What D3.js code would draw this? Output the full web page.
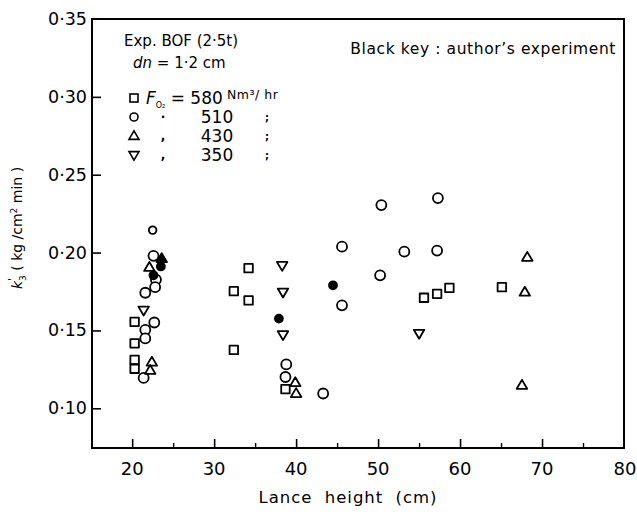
<!DOCTYPE html>
<html>
<head>
<meta charset="utf-8">
<script src="https://cdn.jsdelivr.net/npm/d3@7"></script>
<style>
html,body{margin:0;padding:0;background:#fff;}
text{font-family:"DejaVu Sans",sans-serif;fill:#000;}
</style>
</head>
<body>
<svg id="chart" width="637" height="514"></svg>
<script>
// ---- data (lance height cm, k'3 kg/cm2 min) ----
const xTicks = [20, 30, 40, 50, 60, 70, 80];
const xMinorTicks = [25, 35, 45, 55, 65, 75];
const yTicks = [0.10, 0.15, 0.20, 0.25, 0.30, 0.35];
const yTickLabels = ["0·10", "0·15", "0·20", "0·25", "0·30", "0·35"];

// F_O2 = 580 Nm3/hr (squares)
const sq580X = [20.3, 20.3, 20.3, 20.3, 32.4, 34.2, 34.2, 32.4, 38.7, 55.6, 57.2, 58.7, 65.1];
const sq580Y = [0.1555, 0.1417, 0.1311, 0.1254, 0.1752, 0.190, 0.1693, 0.1375, 0.1123, 0.171, 0.1735, 0.1773, 0.1778];
// F_O2 = 510 (circles)
const ci510X = [22.5, 22.6, 22.9, 22.8, 21.6, 22.7, 21.6, 21.6, 21.4, 38.8, 38.7, 43.3, 45.6, 45.6, 50.4, 50.25, 53.2, 57.3, 57.2];
const ci510Y = [0.2144, 0.1979, 0.1826, 0.1778, 0.1742, 0.1551, 0.1504, 0.1449, 0.1195, 0.1282, 0.1201, 0.1095, 0.2038, 0.1661, 0.2305, 0.1854, 0.2006, 0.235, 0.2013];
// F_O2 = 430 (up triangles)
const tr430X = [22.1, 22.4, 22.2, 39.9, 40.0, 68.2, 67.9, 67.55];
const tr430Y = [0.1905, 0.1297, 0.1244, 0.1165, 0.1095, 0.197, 0.1746, 0.1148];
// F_O2 = 350 (down triangles)
const dt350X = [21.4, 38.3, 38.4, 38.4, 55.0];
const dt350Y = [0.163, 0.1917, 0.1746, 0.1472, 0.1481];
// Black key: author's experiment
const authorCircleX = [23.5, 22.6, 37.9, 44.5];
const authorCircleY = [0.1911, 0.1854, 0.1576, 0.179];
const authorTriX = [23.6];
const authorTriY = [0.1962];

const legendRates = ["580", "510", "430", "350"];

// ---- layout ----
const svg = d3.select("#chart");
const L = 92, R = 624, T = 19, B = 448;
const x = d3.scaleLinear().domain([15.1, 80]).range([L, R]);
const y = d3.scaleLinear().domain([0.0745, 0.35]).range([B, T]);

// frame
svg.append("rect").attr("x", L).attr("y", T).attr("width", R - L).attr("height", B - T)
  .attr("fill", "none").attr("stroke", "#000").attr("stroke-width", 2);

// x axis (inward ticks)
const xAxis = d3.axisTop(x).tickValues(xTicks.filter(v => v < 80)).tickSize(9).tickFormat("");
svg.append("g").attr("transform", `translate(0,${B})`).call(xAxis)
  .call(g => g.select(".domain").remove())
  .call(g => g.selectAll("line").attr("stroke-width", 1.6));
const xAxisMinor = d3.axisTop(x).tickValues(xMinorTicks).tickSize(5).tickFormat("");
svg.append("g").attr("transform", `translate(0,${B})`).call(xAxisMinor)
  .call(g => g.select(".domain").remove())
  .call(g => g.selectAll("line").attr("stroke-width", 1.4));
svg.append("g").selectAll("text").data(xTicks).join("text")
  .attr("x", d => x(d) + (d === 80 ? 1 : 0)).attr("y", 475)
  .attr("text-anchor", "middle").attr("font-size", 18)
  .text(d => d);

// y axis (inward ticks)
const yAxis = d3.axisRight(y).tickValues(yTicks.filter(v => v < 0.35)).tickSize(9).tickFormat("");
svg.append("g").attr("transform", `translate(${L},0)`).call(yAxis)
  .call(g => g.select(".domain").remove())
  .call(g => g.selectAll("line").attr("stroke-width", 1.6));
svg.append("g").selectAll("text").data(yTicks).join("text")
  .attr("x", 87).attr("y", d => y(d) + 6)
  .attr("text-anchor", "end").attr("font-size", 17.5)
  .text((d, i) => yTickLabels[i]);

// axis titles
svg.append("text").attr("x", 348).attr("y", 503).attr("text-anchor", "middle")
  .attr("font-size", 16.5).attr("letter-spacing", 1)
  .attr("word-spacing", 6)
  .text("Lance height (cm)");
const yl = svg.append("text").attr("transform", "translate(22,228) rotate(-90)")
  .attr("text-anchor", "middle").attr("font-size", 14);
yl.append("tspan").attr("font-style", "italic").text("k");
yl.append("tspan").attr("font-size", 11).attr("dy", -6).text("'");
yl.append("tspan").attr("font-size", 9).attr("dy", 10).attr("dx", -3).text("3");
yl.append("tspan").attr("dy", -4).text("  ( kg /cm");
yl.append("tspan").attr("font-size", 9).attr("dy", -5).text("2");
yl.append("tspan").attr("dy", 5).text(" min )");

// ---- marker shapes ----
const SW = 1.8;
function square(g, s) { return g.append("rect").attr("x", -s / 2).attr("y", -s / 2).attr("width", s).attr("height", s); }
function triUp(s) { const h = s * 0.85; return `M0,${-h * 0.6}L${s / 2},${h * 0.4}L${-s / 2},${h * 0.4}Z`; }
function triDown(s) { const h = s * 0.85; return `M0,${h * 0.6}L${s / 2},${-h * 0.4}L${-s / 2},${-h * 0.4}Z`; }

function drawSeries(xs, ys, kind, filled) {
  const pts = xs.map((v, i) => [v, ys[i]]);
  const g = svg.append("g");
  const sel = g.selectAll("g").data(pts).join("g")
    .attr("transform", d => `translate(${x(d[0])},${y(d[1])})`);
  sel.each(function (d) {
    const m = d3.select(this);
    let el;
    if (kind === "square") el = square(m, 8.5);
    else if (kind === "circle") el = m.append("circle").attr("r", filled ? 4 : (d[1] > 0.21 && d[0] < 30 ? 3.8 : 5));
    else if (kind === "up") el = m.append("path").attr("d", triUp(10.5));
    else el = m.append("path").attr("d", triDown(10.5));
    el.attr("fill", filled ? "#000" : "#fff").attr("stroke", "#000").attr("stroke-width", SW)
      .attr("stroke-linejoin", "round");
  });
}
drawSeries(sq580X, sq580Y, "square", false);
drawSeries(ci510X, ci510Y, "circle", false);
drawSeries(tr430X, tr430Y, "up", false);
drawSeries(dt350X, dt350Y, "down", false);
drawSeries(authorCircleX, authorCircleY, "circle", true);
drawSeries(authorTriX, authorTriY, "up", true);

// ---- legend / annotations ----
svg.append("text").attr("x", 124).attr("y", 46).attr("font-size", 15).text("Exp.  BOF (2·5t)");
const dn = svg.append("text").attr("x", 133).attr("y", 68).attr("font-size", 15);
dn.append("tspan").attr("font-style", "italic").text("dn");
dn.append("tspan").text(" = 1·2 cm");
svg.append("text").attr("x", 616).attr("y", 54).attr("text-anchor", "end").attr("font-size", 15.5)
  .attr("letter-spacing", 0.6)
  .text("Black key : author’s experiment");

const rowY = [98, 117, 136, 155];
const lg = svg.append("g").attr("transform", "translate(134,0)");
["square", "circle", "up", "down"].forEach((k, i) => {
  const m = lg.append("g").attr("transform", `translate(0,${rowY[i]})`);
  let el;
  if (k === "square") el = square(m, 8);
  else if (k === "circle") el = m.append("circle").attr("r", 4);
  else if (k === "up") el = m.append("path").attr("d", triUp(10));
  else el = m.append("path").attr("d", triDown(10));
  el.attr("fill", "none").attr("stroke", "#000").attr("stroke-width", 1.6);
});
// row 1
const r1 = svg.append("text").attr("x", 146).attr("y", rowY[0] + 6).attr("font-size", 17);
r1.append("tspan").attr("font-style", "italic").text("F");
r1.append("tspan").attr("font-size", 8).attr("dy", 4).text("O₂");
r1.append("tspan").attr("dy", -4).text(" = " + legendRates[0]);
svg.append("text").attr("x", 227).attr("y", rowY[0] + 1).attr("font-size", 12.5)
  .attr("letter-spacing", 0.5).text("Nm³/ hr");
// rows 2-4
[1, 2, 3].forEach(i => {
  svg.append("text").attr("x", 163).attr("y", rowY[i] + 4).attr("text-anchor", "middle")
    .attr("font-size", 12).attr("font-weight", "bold").text(i === 1 ? "·" : ",");
  svg.append("text").attr("x", 217).attr("y", rowY[i] + 6).attr("text-anchor", "middle")
    .attr("font-size", 17).text(legendRates[i]);
  svg.append("text").attr("x", 267).attr("y", rowY[i] + 4).attr("text-anchor", "middle")
    .attr("font-size", 10).attr("font-weight", "bold").text(";");
});
</script>
</body>
</html>
